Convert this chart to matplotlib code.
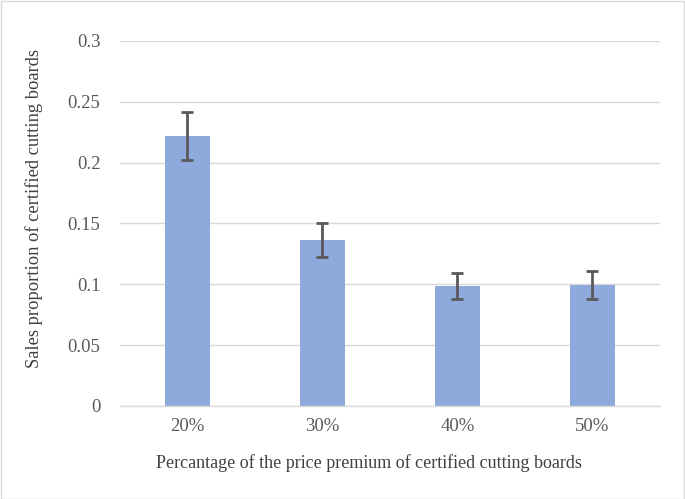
import matplotlib
matplotlib.use("Agg")
import matplotlib.pyplot as plt
from matplotlib.patches import Rectangle

categories = ["20%", "30%", "40%", "50%"]
values = [0.222, 0.1365, 0.0986, 0.0995]
errors = [0.0195, 0.0137, 0.0103, 0.0112]
yticks = [0, 0.05, 0.1, 0.15, 0.2, 0.25, 0.3]
ytick_labels = ["0", "0.05", "0.1", "0.15", "0.2", "0.25", "0.3"]

plt.rcParams['font.family'] = ['Liberation Serif', 'DejaVu Serif']

fig = plt.figure(figsize=(6.85, 4.99), dpi=100)
ax = fig.add_axes([0.175, 0.1864, 0.7885, 0.7316])

x = list(range(len(categories)))
ax.bar(x, values, width=0.33, color="#8EA9DB", zorder=2)
ax.errorbar(x, values, yerr=errors, fmt='none', ecolor="#595959",
            elinewidth=2, capsize=4, capthick=2, zorder=3)

ax.set_xlim(-0.5, len(categories) - 0.5)
ax.set_ylim(0, 0.3)
ax.set_yticks(yticks)
ax.set_yticklabels(ytick_labels)
ax.set_xticks(x)
ax.set_xticklabels(categories)
ax.yaxis.grid(True, color="#d9d9d9", linewidth=1)
ax.set_axisbelow(True)
for s in ["left", "right", "top"]:
    ax.spines[s].set_visible(False)
ax.spines["bottom"].set_color("#d9d9d9")
ax.spines["bottom"].set_linewidth(1)
ax.tick_params(axis='both', length=0, labelsize=13.5, colors="#595959", pad=9)
ax.tick_params(axis='y', pad=14)

ax.set_xlabel("Percantage of the price premium of certified cutting boards",
              fontsize=13, color="#404040")
ax.set_ylabel("Sales proportion of certified cutting boards",
              fontsize=13.3, color="#404040")
ax.xaxis.set_label_coords(0.461, -0.132)
ax.yaxis.set_label_coords(-0.143, 0.542)

fig.patches.append(Rectangle((0.001, 0.001), 0.997, 0.997, transform=fig.transFigure,
                             fill=False, edgecolor="#d9d9d9", linewidth=1))

fig.savefig("out.png", dpi=100)
